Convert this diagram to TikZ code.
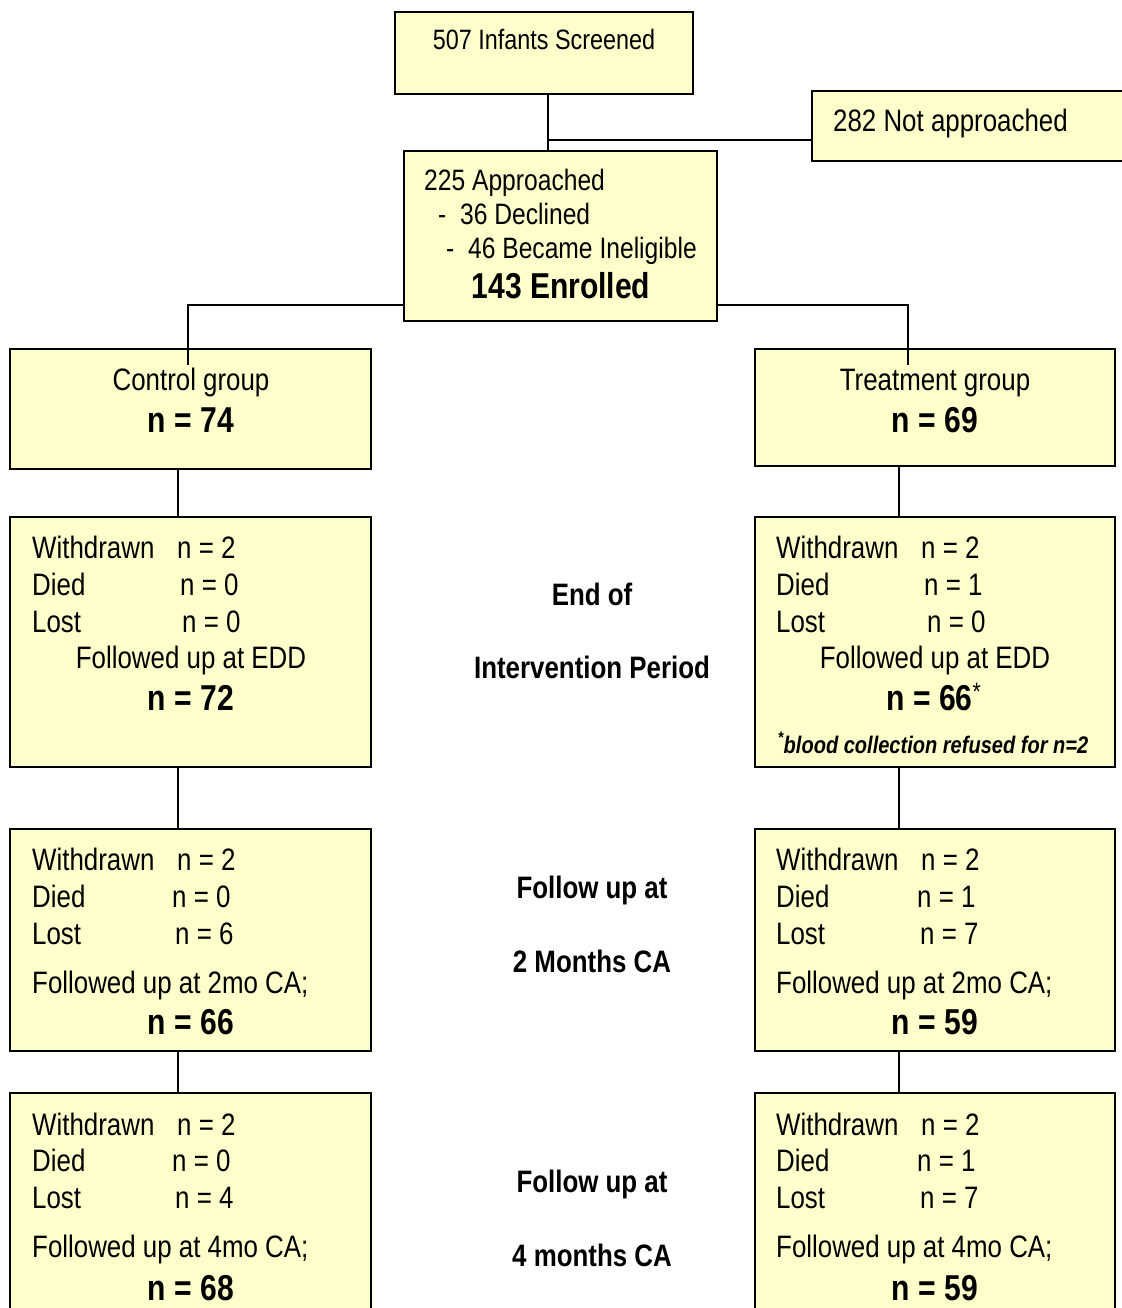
\documentclass[tikz,border=0pt]{standalone}
\usepackage{fontspec}
\setmainfont[FakeStretch=0.835]{Liberation Sans}
\usetikzlibrary{positioning}
\definecolor{boxfill}{HTML}{FFFFCC}
\tikzset{
  box/.style={draw, line width=2pt, fill=boxfill, inner sep=0pt, outer sep=0pt},
  txt/.style={inner sep=0pt, anchor=base west, font=\fontsize{31}{37}\selectfont},
  ctxt/.style={txt, anchor=base},
  big/.style={inner sep=0pt, anchor=base, font=\fontsize{36}{43}\selectfont\bfseries},
  mid/.style={inner sep=0pt, anchor=base, font=\fontsize{31}{37}\selectfont\bfseries},
  link/.style={line width=2pt}
}
\begin{document}
\begin{tikzpicture}[x=1pt, y=-1pt]
\useasboundingbox (0,0) rectangle (1121,1308);

% Top boxes
\node[box, minimum width=298pt, minimum height=82pt] (screened) at (544,53) {};
\node[box, minimum width=323pt, minimum height=70pt] (notappr) at (973.5,126) {};
\node[box, minimum width=313pt, minimum height=170pt] (approached) at (560.5,236) {};

\node[txt, anchor=base, font=\fontsize{28}{34}\selectfont] (screenedTxt) at (544,50) {507 Infants Screened};
\node[txt] (notapprTxt) at (833,132) {282 Not approached};
\node[txt, font=\fontsize{29.5}{35}\selectfont] (apprA) at (424,190) {225 Approached};
\node[txt, font=\fontsize{29.5}{35}\selectfont] (apprB) at (438,224) {-\ \ 36 Declined};
\node[txt, font=\fontsize{29.5}{35}\selectfont] (apprC) at (446,258) {-\ \ 46 Became Ineligible};
\node[big] (enrolled) at (561,298) {143 Enrolled};

% Group boxes
\node[box, minimum width=361pt, minimum height=120pt] (control) at (190.5,409) {};
\node[box, minimum width=360pt, minimum height=117pt] (treat) at (935,407.5) {};

\node[ctxt] (controlTxt) at (191,390) {Control group};
\node[big] (controlN) at (191,432) {n = 74};
\node[ctxt] (treatTxt) at (935,390) {Treatment group};
\node[big] (treatN) at (935,432) {n = 69};

% End of intervention
\node[box, minimum width=361pt, minimum height=250pt] (ctrlEdd) at (190.5,642) {};
\node[box, minimum width=360pt, minimum height=250pt] (treatEdd) at (935,642) {};

\node[txt] (ctrlEddW) at (32,558) {Withdrawn};
\node[txt] (ctrlEddWn) at (177,558) {n = 2};
\node[txt] (ctrlEddD) at (32,595) {Died};
\node[txt] (ctrlEddDn) at (180,595) {n = 0};
\node[txt] (ctrlEddL) at (32,632) {Lost};
\node[txt] (ctrlEddLn) at (182,632) {n = 0};
\node[ctxt] (ctrlEddF) at (191,668) {Followed up at EDD};
\node[big] (ctrlEddN) at (191,710) {n = 72};

\node[txt] (treatEddW) at (776,558) {Withdrawn};
\node[txt] (treatEddWn) at (921,558) {n = 2};
\node[txt] (treatEddD) at (776,595) {Died};
\node[txt] (treatEddDn) at (924,595) {n = 1};
\node[txt] (treatEddL) at (776,632) {Lost};
\node[txt] (treatEddLn) at (927,632) {n = 0};
\node[ctxt] (treatEddF) at (935,668) {Followed up at EDD};
\node[big] (treatEddN) at (934,710) {n = 66\textsuperscript{\mdseries*}};
\node[inner sep=0pt, anchor=base, font=\fontsize{24}{28}\selectfont\bfseries\itshape] (treatEddNote) at (933,753) {\textsuperscript{*}blood collection refused for n=2};

\node[mid] (endA) at (592,605) {End of};
\node[mid] (endB) at (592,678) {Intervention Period};

% Follow up at 2 months
\node[box, minimum width=361pt, minimum height=222pt] (ctrlTwo) at (190.5,940) {};
\node[box, minimum width=360pt, minimum height=222pt] (treatTwo) at (935,940) {};

\node[txt] (ctrlTwoW) at (32,870) {Withdrawn};
\node[txt] (ctrlTwoWn) at (177,870) {n = 2};
\node[txt] (ctrlTwoD) at (32,907) {Died};
\node[txt] (ctrlTwoDn) at (172,907) {n = 0};
\node[txt] (ctrlTwoL) at (32,944) {Lost};
\node[txt] (ctrlTwoLn) at (175,944) {n = 6};
\node[txt] (ctrlTwoF) at (32,993) {Followed up at 2mo CA;};
\node[big] (ctrlTwoN) at (191,1034) {n = 66};

\node[txt] (treatTwoW) at (776,870) {Withdrawn};
\node[txt] (treatTwoWn) at (921,870) {n = 2};
\node[txt] (treatTwoD) at (776,907) {Died};
\node[txt] (treatTwoDn) at (917,907) {n = 1};
\node[txt] (treatTwoL) at (776,944) {Lost};
\node[txt] (treatTwoLn) at (920,944) {n = 7};
\node[txt] (treatTwoF) at (776,993) {Followed up at 2mo CA;};
\node[big] (treatTwoN) at (935,1034) {n = 59};

\node[mid] (twoA) at (592,898) {Follow up at};
\node[mid] (twoB) at (592,972) {2 Months CA};

% Follow up at 4 months
\node[box, minimum width=361pt, minimum height=237pt] (ctrlFour) at (190.5,1211.5) {};
\node[box, minimum width=360pt, minimum height=237pt] (treatFour) at (935,1211.5) {};

\node[txt] (ctrlFourW) at (32,1135) {Withdrawn};
\node[txt] (ctrlFourWn) at (177,1135) {n = 2};
\node[txt] (ctrlFourD) at (32,1171) {Died};
\node[txt] (ctrlFourDn) at (172,1171) {n = 0};
\node[txt] (ctrlFourL) at (32,1208) {Lost};
\node[txt] (ctrlFourLn) at (175,1208) {n = 4};
\node[txt] (ctrlFourF) at (32,1257) {Followed up at 4mo CA;};
\node[big] (ctrlFourN) at (191,1300) {n = 68};

\node[txt] (treatFourW) at (776,1135) {Withdrawn};
\node[txt] (treatFourWn) at (921,1135) {n = 2};
\node[txt] (treatFourD) at (776,1171) {Died};
\node[txt] (treatFourDn) at (917,1171) {n = 1};
\node[txt] (treatFourL) at (776,1208) {Lost};
\node[txt] (treatFourLn) at (920,1208) {n = 7};
\node[txt] (treatFourF) at (776,1257) {Followed up at 4mo CA;};
\node[big] (treatFourN) at (935,1300) {n = 59};

\node[mid] (fourA) at (592,1192) {Follow up at};
\node[mid] (fourB) at (592,1266) {4 months CA};

% Connectors
\coordinate (split) at (548,140);
\coordinate (ctrlIn) at (188,365);
\coordinate (treatIn) at (908,365);
\draw[link] ([xshift=4pt]screened.south) -- ([xshift=4pt]screened.south |- approached.north);
\draw[link] (split) -- (split -| notappr.west);
\draw[link] ([yshift=-69pt]approached.west) -| (ctrlIn);
\draw[link] ([yshift=-69pt]approached.east) -| (treatIn);

\draw[link] ([xshift=-12.5pt]control.south) -- ([xshift=-12.5pt]ctrlEdd.north);
\draw[link] ([xshift=-12.5pt]ctrlEdd.south) -- ([xshift=-12.5pt]ctrlTwo.north);
\draw[link] ([xshift=-12.5pt]ctrlTwo.south) -- ([xshift=-12.5pt]ctrlFour.north);
\draw[link] ([xshift=-36pt]treat.south) -- ([xshift=-36pt]treatEdd.north);
\draw[link] ([xshift=-36pt]treatEdd.south) -- ([xshift=-36pt]treatTwo.north);
\draw[link] ([xshift=-36pt]treatTwo.south) -- ([xshift=-36pt]treatFour.north);

\end{tikzpicture}
\end{document}
